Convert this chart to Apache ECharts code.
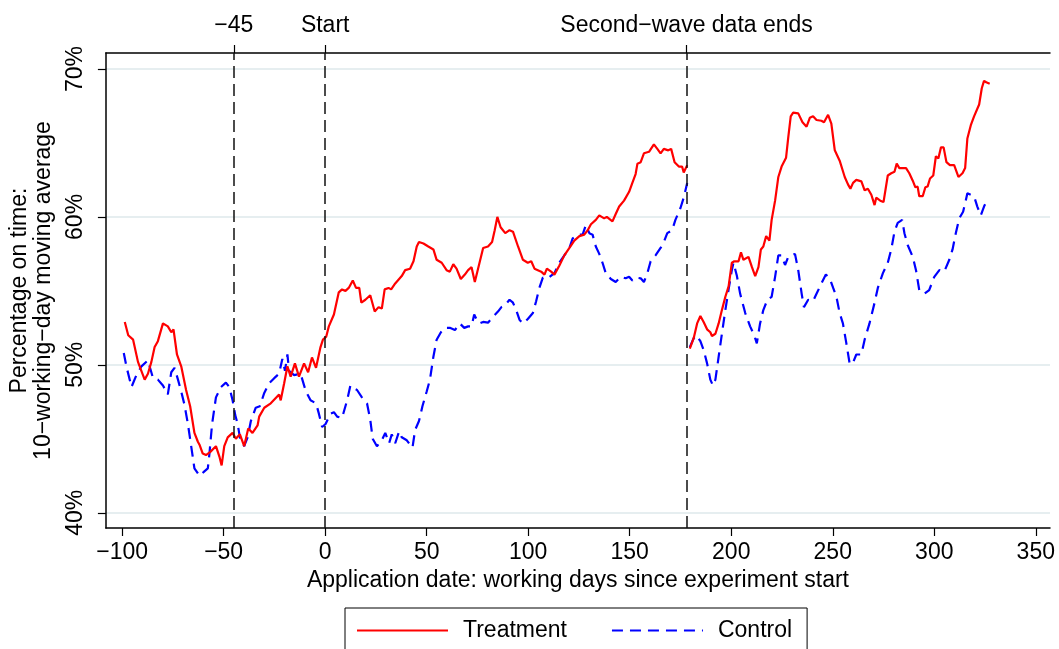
<!DOCTYPE html>
<html>
<head>
<meta charset="utf-8">
<script src="https://cdn.jsdelivr.net/npm/echarts@6/dist/echarts.min.js"></script>
<style>
  html, body { margin: 0; padding: 0; background: #fff; }
  #chart { width: 1059px; height: 649px; }
</style>
</head>
<body>
<div id="chart"></div>
<script>
// [working day, percent on time]
const treatmentBefore = [
  [-98.7,52.9],[-97,52.0],[-94.6,51.7],[-92.2,50.2],[-88.9,49.0],[-87.3,49.4],[-85.6,50.2],[-84,51.2],
  [-82.4,51.6],[-79.9,52.8],[-77.5,52.6],[-75.8,52.2],[-74.7,52.4],[-73,50.7],[-70.9,49.9],[-68.5,48.3],
  [-66.5,47.2],[-64.4,45.4],[-62.7,44.8],[-61.9,44.6],[-60.3,44.0],[-58.7,43.9],[-56.7,44.1],[-53.8,44.5],
  [-52.1,43.8],[-51,43.2],[-49.7,44.5],[-48,45.1],[-45.6,45.4],[-44,45.0],[-42,45.3],[-39.9,44.5],
  [-37.9,45.7],[-35.8,45.4],[-33.3,45.9],[-32.5,46.5],[-30,47.1],[-26.8,47.4],[-22.7,48.0],[-21.9,47.6],
  [-20.2,48.75],[-18.6,49.9],[-17,49.2],[-14.9,50.1],[-12.9,49.2],[-10.4,50.1],[-8.4,49.5],[-6.5,50.5],
  [-4.5,49.8],[-2.3,51.2],[-1.1,51.7],[0.5,51.9],[1.8,52.6],[4.3,53.4],[6.7,54.9],[8.3,55.1],
  [10,55.0],[11.6,55.2],[13.6,55.7],[15.2,55.2],[16.8,55.2],[17.8,54.2],[19.8,54.4],[22.2,54.7],
  [24.4,53.6],[26.3,53.9],[27.9,53.8],[29.3,55.1],[31.2,55.2],[32.5,55.1],[34.5,55.5],[37.7,56.0],
  [39.4,56.4],[41.8,56.5],[43.5,57.0],[45.1,58.0],[46.2,58.3],[48.4,58.2],[49.2,58.3],[50.8,58.0],
  [53.3,57.8],[54.9,57.1],[57.4,56.9],[59.8,56.4],[61.4,56.3],[63.1,56.8],[64.7,56.5],[66.8,55.8],
  [68.8,56.1],[70.4,56.4],[72.1,56.6],[73.7,55.6],[75.3,56.5],[77.8,57.9],[80.2,58.0],[82.2,58.3],
  [83.5,59.1],[84.8,60.0],[86.4,59.3],[88.7,58.9],[90.8,59.1],[92.5,59.0],[95,58.0],[97.4,57.1],
  [99.8,56.9],[101.5,57.0],[103.1,56.5],[106.4,56.3],[108,56.1],[109.2,56.5],[111.3,56.3],[112.9,56.1],
  [115.3,56.7],[117.8,57.4],[120.3,57.9],[122.7,58.4],[125.2,58.7],[127.6,58.8],[129.3,59.1],[130.9,59.5],
  [133.3,59.8],[135,60.1],[137.4,59.9],[138.7,60.0],[141.5,59.7],[143.1,60.2],[144.8,60.7],[147.2,61.1],
  [149.7,61.7],[151.3,62.3],[152.9,62.9],[153.8,63.6],[155.4,63.7],[157,64.3],[159.5,64.4],[161.9,64.9],
  [163.6,64.6],[165.2,64.3],[166.8,64.6],[169,64.5],[170.4,64.6],[172.1,63.7],[174.2,63.4],[175.8,63.4],
  [176.6,63.0],[178.3,63.5]
];
const treatmentAfter = [
  [179.6,51.1],[181.5,51.8],[183.2,52.8],[184.8,53.3],[186.4,52.9],[188.1,52.4],[189.7,52.2],[190.5,51.95],
  [192.2,52.1],[193.8,52.8],[195.4,53.7],[197.1,54.6],[198.7,55.3],[200.3,56.9],[201.5,57.0],[203.6,57.0],
  [204.8,57.6],[206,57.1],[208.5,57.3],[210.2,56.6],[211.8,56.0],[213.4,56.6],[214.6,57.8],[215.8,58.0],
  [217.2,58.7],[218.8,58.4],[219.9,59.8],[221.6,61.1],[223.2,62.7],[224.8,63.4],[227,64.0],[228.1,65.4],
  [229.3,66.8],[230.5,67.05],[233,67.0],[235.1,66.4],[237.1,66.1],[238.7,66.7],[240.3,66.8],[242,66.55],
  [244.4,66.5],[245.7,66.4],[247.7,66.9],[249.3,66.3],[251,64.5],[253.4,63.8],[255.9,62.7],[257.5,62.2],
  [258.7,61.9],[260,62.3],[261.6,62.5],[264.1,62.4],[265.7,61.8],[267.3,61.9],[269,61.5],[270.6,60.8],
  [271.4,61.3],[273.4,61.1],[275,61.0],[277.1,62.8],[278.8,62.95],[280.4,63.05],[281.5,63.6],[282.8,63.3],
  [286.1,63.3],[287.7,62.95],[289.4,62.45],[290.7,62.0],[291.8,62.05],[292.6,61.4],[294.3,61.4],[295.6,62.0],
  [296.7,62.05],[297.9,62.6],[299.5,62.8],[300.8,64.1],[302,63.95],[303.3,64.7],[304.6,64.7],[306,63.7],
  [307.7,63.5],[309.8,63.5],[311.9,62.7],[313.9,62.95],[315.2,63.3],[316.3,65.3],[318,66.2],[319.6,66.8],
  [322.1,67.6],[323.4,68.7],[324.5,69.2],[325.6,69.1],[327.3,69.0]
];
const controlBefore = [
  [-99.2,50.8],[-97.9,49.9],[-95.4,48.5],[-93,49.3],[-90.5,49.9],[-87.3,50.3],[-84.8,49.1],[-82.4,49.0],
  [-79.9,48.6],[-77.5,48.0],[-75.8,49.5],[-74.2,49.8],[-72.5,49.0],[-70.9,48.2],[-69.3,47.3],[-67.6,46.0],
  [-66,44.5],[-64.4,43.0],[-61.9,42.5],[-59.5,42.8],[-57.8,43.0],[-57,44.0],[-55.7,46.0],[-53.8,47.8],
  [-51.3,48.5],[-48.9,48.8],[-47.2,48.5],[-45.6,47.6],[-44.3,46.6],[-43.1,46.0],[-42,45.1],[-39.9,44.5],
  [-38.2,45.1],[-36.6,46.2],[-34.2,47.1],[-32.2,47.2],[-30,48.1],[-27.6,48.75],[-25.1,49.1],[-22.7,49.4],
  [-21.1,50.4],[-19.8,49.6],[-18.6,50.7],[-17.8,49.6],[-15.3,49.3],[-12.1,49.4],[-9.5,48.2],[-7.2,47.6],
  [-4.5,47.4],[-3.1,46.7],[-1.5,45.8],[0.2,46.0],[2.6,46.7],[4.3,46.8],[5.9,46.5],[8.3,46.4],
  [10.8,47.6],[12.4,48.6],[14.1,48.4],[15.7,48.3],[18.1,47.8],[20.6,47.4],[22.2,46.3],[23.4,45.0],
  [25.5,44.5],[27.9,44.9],[29.6,45.4],[31.5,44.7],[32.8,45.3],[34.5,44.7],[36.4,45.5],[37.7,45.1],
  [40.2,44.9],[41.8,44.6],[43,44.4],[44.3,45.6],[46.2,46.2],[47.9,47.2],[50,48.2],[51.6,49.0],
  [53.3,50.55],[54.9,51.7],[57,52.2],[59,52.5],[61.4,52.5],[63.9,52.35],[66.3,52.8],[68.5,52.5],
  [70.4,52.6],[72.1,52.6],[73.4,53.4],[74.5,53.1],[76.1,52.8],[77.8,52.9],[80.2,52.85],[82.7,53.25],
  [85.1,53.6],[86.8,53.9],[88.4,54.0],[90.8,54.4],[92.5,54.2],[94.1,53.7],[95.7,53.05],[97.4,52.8],
  [99.8,53.1],[102.3,53.5],[103.9,54.3],[105.5,55.2],[107.2,55.9],[109.7,55.85],[112.9,56.2],[115.3,56.9],
  [117.8,57.4],[120.3,57.9],[121.9,58.55],[124.4,58.8],[126.8,58.8],[128.4,59.45],[130.1,58.9],[131.7,58.8],
  [133.3,58.0],[135,57.5],[136.6,56.9],[138.2,56.2],[140.7,55.8],[143.1,55.6],[145.6,55.95],[148,55.85],
  [149.7,55.95],[151.3,55.7],[152.9,55.9],[155.4,55.85],[157,55.6],[158.7,56.2],[160.3,57.0],[162.7,57.4],
  [165.2,57.9],[166.8,58.3],[168.5,58.9],[170.9,59.1],[172.5,59.8],[175,60.6],[176.6,61.3],[178.3,62.3]
];
const controlAfter = [
  [179.6,51.2],[181.5,51.8],[182.8,52.0],[184.8,51.6],[186.4,51.0],[188.1,50.1],[189.7,49.0],[191,48.6],
  [192.2,49.0],[193.8,50.55],[195.4,52.1],[197.1,53.7],[198.7,55.1],[200.3,56.4],[201.1,56.9],[202.8,56.0],
  [204.4,54.8],[206.9,53.5],[209.3,52.6],[211.3,52.0],[212.6,51.45],[214.2,52.8],[215.8,53.7],[217.8,54.4],
  [219.9,54.6],[221.6,55.95],[223.2,57.4],[224.8,57.4],[226.5,56.75],[228.1,57.3],[231.4,57.5],[233,56.4],
  [234.7,54.8],[235.8,53.9],[237.9,54.4],[240.3,54.3],[242,54.8],[244.4,55.5],[246.6,56.1],[248.5,55.85],
  [250.2,55.2],[251.8,54.6],[253.4,53.5],[255,52.8],[256.7,51.45],[258.3,50.1],[259.7,50.05],[261.6,50.7],
  [264.1,50.7],[265.7,51.7],[268.1,52.8],[270.6,54.2],[272.2,55.2],[274.7,56.2],[277.1,56.9],[278.8,57.8],
  [280.4,59.0],[282,59.6],[284.2,59.8],[285.3,58.9],[286.9,58.1],[289.4,57.3],[291,56.4],[292.6,55.05],
  [295.1,54.8],[297.5,55.05],[300,55.95],[302.5,56.4],[304.9,56.3],[307.4,57.1],[309,57.8],[310.6,58.9],
  [312.3,59.9],[314.2,60.35],[315.5,61.1],[316.3,61.6],[318,61.5],[319.6,61.4],[321.2,60.7],[322.9,60.1],
  [324.5,60.7],[325.6,61.0]
];

const xTicks = [-100, -50, 0, 50, 100, 150, 200, 250, 300, 350];
const yTicks = [40, 50, 60, 70];
const eventDays = [-45, 0, 178];
const eventLabels = ['\u221245', 'Start', 'Second\u2212wave data ends'];

const font = 'Liberation Sans, Arial, Helvetica, sans-serif';
const minus = v => (v < 0 ? '\u2212' + Math.abs(v) : String(v));

// the second wave starts after a gap, so break the line there
const treatment = treatmentBefore.concat([[179, '-']], treatmentAfter);
const control = controlBefore.concat([[179, '-']], controlAfter);

const chart = echarts.init(document.getElementById('chart'));
chart.setOption({
  animation: false,
  backgroundColor: '#fff',
  textStyle: { fontFamily: font },
  grid: { left: 103, right: 9, top: 53, bottom: 121 },
  legend: {
    data: ['Treatment', 'Control'],
    left: 345, top: 608,
    itemWidth: 91, itemHeight: 20, itemGap: 44,
    padding: [11, 15, 11, 11],
    borderColor: '#000', borderWidth: 1, borderRadius: 0,
    itemStyle: { opacity: 0 },
    textStyle: { fontSize: 23, color: '#000', fontFamily: font, padding: [0, 0, 0, 10] }
  },
  xAxis: [
    {
      type: 'value', min: -108, max: 357,
      name: 'Application date: working days since experiment start',
      nameLocation: 'middle', nameGap: 38,
      nameTextStyle: { fontSize: 23, color: '#000', fontFamily: font },
      axisLine: { show: true, onZero: false, lineStyle: { color: '#000', width: 1.5 } },
      axisTick: { show: true, length: 8, customValues: xTicks, lineStyle: { color: '#000', width: 1.2 } },
      axisLabel: { customValues: xTicks, formatter: minus, fontSize: 23, color: '#000', margin: 13, fontFamily: font },
      splitLine: { show: false }
    },
    {
      type: 'value', position: 'top', min: -108, max: 357,
      axisLine: { show: true, onZero: false, lineStyle: { color: '#000', width: 1.5 } },
      axisTick: { show: true, length: 8, customValues: eventDays, lineStyle: { color: '#000', width: 1.2 } },
      axisLabel: {
        customValues: eventDays, fontSize: 23, color: '#000', margin: 16, fontFamily: font,
        formatter: v => eventLabels[eventDays.indexOf(v)]
      },
      splitLine: { show: false }
    }
  ],
  yAxis: {
    type: 'value', min: 38.97, max: 71.08,
    name: 'Percentage on time:\n10\u2212working\u2212day moving average',
    nameLocation: 'middle', nameGap: 48, nameRotate: 90,
    nameTextStyle: { fontSize: 23, color: '#000', lineHeight: 24, fontFamily: font },
    axisLine: { show: true, onZero: false, lineStyle: { color: '#000', width: 1.5 } },
    axisTick: { show: true, length: 8, customValues: yTicks, lineStyle: { color: '#000', width: 1.2 } },
    axisLabel: { customValues: yTicks, rotate: 90, formatter: v => v + '%', fontSize: 23, color: '#000', margin: 19, fontFamily: font },
    splitLine: { show: true, lineStyle: { color: '#e6eef0', width: 2 } }
  },
  series: [
    {
      name: 'Treatment', type: 'line', data: treatment,
      showSymbol: false, symbol: 'none', connectNulls: false,
      lineStyle: { color: '#ff0000', width: 2.2 }, itemStyle: { color: '#ff0000' },
      z: 3,
      markLine: {
        silent: true, symbol: 'none', label: { show: false },
        lineStyle: { color: '#111', type: [12, 6], width: 1.5 },
        data: eventDays.map(d => ({ xAxis: d }))
      }
    },
    {
      name: 'Control', type: 'line', data: control,
      showSymbol: false, symbol: 'none', connectNulls: false,
      lineStyle: { color: '#0000ff', width: 2.2, type: [11, 7] }, itemStyle: { color: '#0000ff' },
      z: 2
    }
  ]
});
</script>
</body>
</html>
